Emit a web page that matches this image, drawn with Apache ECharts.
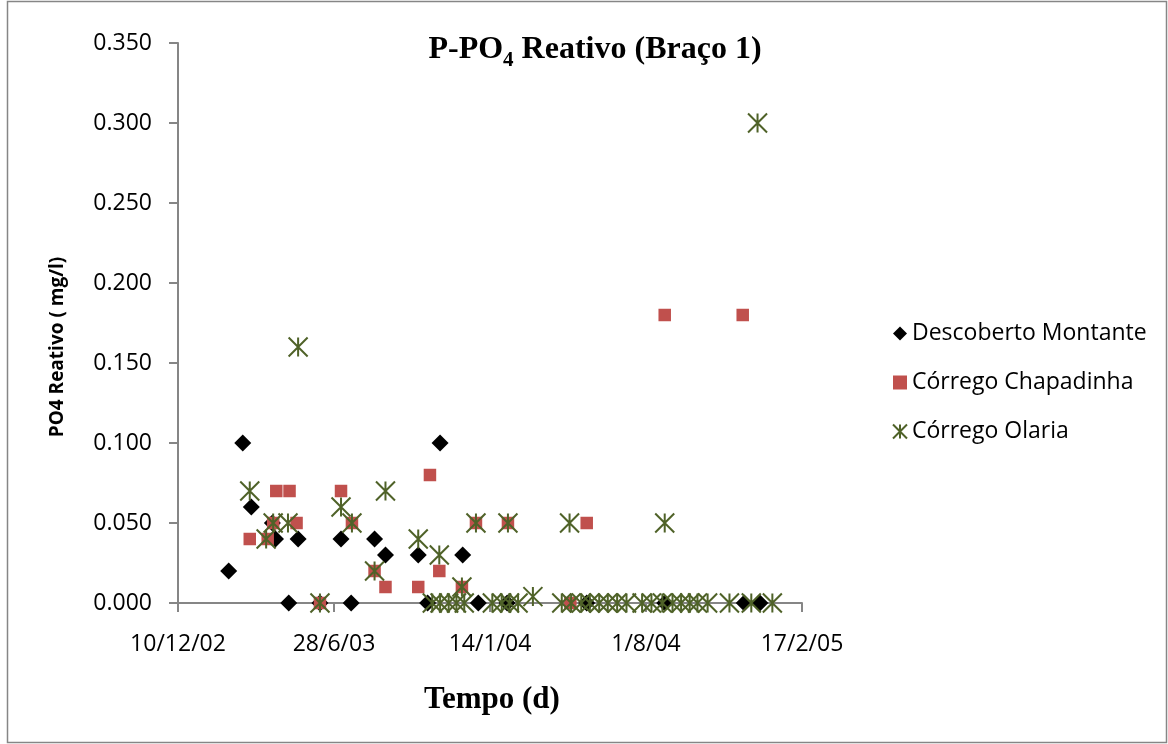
<!DOCTYPE html>
<html>
<head>
<meta charset="utf-8">
<title>P-PO4 Reativo (Braço 1)</title>
<style>
  html, body { margin: 0; padding: 0; background: #fff; }
  #chart { width: 1168px; height: 744px; }
</style>
</head>
<body>
<div id="chart"></div>
<script src="https://cdn.jsdelivr.net/npm/echarts@6/dist/echarts.min.js"></script>
<script>
// sampling dates (dd/mm/yy) and PO4 values (mg/l)
var montanteDates = ['13/2/03', '3/3/03', '14/3/03', '10/4/03', '14/4/03', '1/5/03', '13/5/03', '10/6/03',
  '7/7/03', '20/7/03', '19/8/03', '2/9/03', '14/10/03', '26/10/03', '11/11/03', '10/12/03', '30/12/03',
  '5/2/04', '17/5/04', '25/8/04', '5/12/04', '25/12/04'];
var montanteValues = [0.02, 0.10, 0.06, 0.05, 0.04, 0.00, 0.04, 0.00,
  0.04, 0.00, 0.04, 0.03, 0.03, 0.00, 0.10, 0.03, 0.00,
  0.00, 0.00, 0.00, 0.00, 0.00];

var chapadinhaDates = ['12/3/03', '4/4/03', '11/4/03', '15/4/03', '2/5/03', '11/5/03', '10/6/03', '7/7/03',
  '21/7/03', '19/8/03', '2/9/03', '14/10/03', '29/10/03', '10/11/03', '9/12/03', '27/12/03', '6/2/04',
  '26/4/04', '17/5/04', '25/8/04', '3/12/04'];
var chapadinhaValues = [0.04, 0.04, 0.05, 0.07, 0.07, 0.05, 0.00, 0.07,
  0.05, 0.02, 0.01, 0.01, 0.08, 0.02, 0.01, 0.05, 0.05,
  0.00, 0.05, 0.18, 0.18];

var olariaDates = ['12/3/03', '2/4/03', '11/4/03', '30/4/03', '13/5/03', '10/6/03', '7/7/03', '21/7/03',
  '19/8/03', '2/9/03', '14/10/03', '1/11/03', '10/11/03', '11/11/03', '22/11/03', '2/12/03', '9/12/03',
  '12/12/03', '27/12/03', '17/1/04', '29/1/04', '6/2/04', '8/2/04', '19/2/04', '9/3/04', '15/4/04',
  '25/4/04', '27/4/04', '10/5/04', '21/5/04', '2/6/04', '13/6/04', '25/6/04', '7/7/04', '27/7/04',
  '8/8/04', '22/8/04', '25/8/04', '4/9/04', '15/9/04', '26/9/04', '6/10/04', '19/10/04', '16/11/04',
  '14/12/04', '22/12/04', '10/1/05'];
var olariaValues = [0.07, 0.04, 0.05, 0.05, 0.16, 0.00, 0.06, 0.05,
  0.02, 0.07, 0.04, 0.00, 0.03, 0.00, 0.00, 0.00, 0.01,
  0.00, 0.05, 0.00, 0.00, 0.05, 0.00, 0.00, 0.004, 0.00,
  0.05, 0.00, 0.00, 0.00, 0.00, 0.00, 0.00, 0.00, 0.00,
  0.00, 0.00, 0.05, 0.00, 0.00, 0.00, 0.00, 0.00, 0.00,
  0.00, 0.30, 0.00];

var seriesNames = ['Descoberto Montante', 'Córrego Chapadinha', 'Córrego Olaria'];
var xTicks = ['10/12/02', '28/6/03', '14/1/04', '1/8/04', '17/2/05'];
var yTicks = [0, 0.05, 0.10, 0.15, 0.20, 0.25, 0.30, 0.35];

// excel style day serial, so the 200 day tick step starts on a multiple of 200
function toSerial(s) {
  var p = s.split('/');
  return Date.UTC(2000 + Number(p[2]), Number(p[1]) - 1, Number(p[0])) / 86400000 + 25569;
}
function serialLabel(v) {
  var d = new Date((v - 25569) * 86400000);
  return d.getUTCDate() + '/' + (d.getUTCMonth() + 1) + '/' + String(d.getUTCFullYear()).slice(2);
}
function pairs(dates, values) {
  return dates.map(function (d, i) { return [toSerial(d), values[i]]; });
}

var labelFont = 'Open Sans';
var axisGray = '#868686';
var starPath = 'path://M0,0L20,20M20,0L0,20M10,0L10,20';

var chart = echarts.init(document.getElementById('chart'), null, { renderer: 'canvas' });
var option = {
  animation: false,
  backgroundColor: '#fff',
  grid: { left: 178, right: 366, top: 43, bottom: 141 },
  xAxis: {
    type: 'value',
    min: toSerial(xTicks[0]),
    max: toSerial(xTicks[xTicks.length - 1]),
    interval: toSerial(xTicks[1]) - toSerial(xTicks[0]),
    axisLine: { lineStyle: { color: axisGray, width: 2 } },
    axisTick: { show: true, inside: false, length: 9, lineStyle: { color: axisGray, width: 2 } },
    splitLine: { show: false },
    axisLabel: {
      margin: 30, color: '#000', fontFamily: labelFont, fontSize: 23,
      showMinLabel: true, showMaxLabel: true,
      formatter: serialLabel
    }
  },
  yAxis: {
    type: 'value',
    min: yTicks[0],
    max: yTicks[yTicks.length - 1],
    interval: yTicks[1] - yTicks[0],
    axisLine: { show: true, lineStyle: { color: axisGray, width: 2 } },
    axisTick: { show: true, inside: false, length: 9, lineStyle: { color: axisGray, width: 2 } },
    splitLine: { show: false },
    axisLabel: {
      margin: 26, color: '#000', fontFamily: labelFont, fontSize: 23,
      formatter: function (v) { return v.toFixed(3); }
    }
  },
  legend: {
    orient: 'vertical',
    left: 887,
    top: 317,
    itemWidth: 14,
    itemHeight: 14,
    itemGap: 26,
    textStyle: { color: '#000', fontFamily: labelFont, fontSize: 23 },
    data: [
      { name: seriesNames[0], icon: 'diamond' },
      { name: seriesNames[1], icon: 'rect' },
      { name: seriesNames[2], icon: starPath }
    ]
  },
  series: [
    {
      name: seriesNames[0], type: 'scatter', symbol: 'diamond', symbolSize: 17,
      itemStyle: { color: '#000', opacity: 1 },
      data: pairs(montanteDates, montanteValues)
    },
    {
      name: seriesNames[1], type: 'scatter', symbol: 'rect', symbolSize: 12.5,
      itemStyle: { color: '#C0504D', opacity: 1 },
      data: pairs(chapadinhaDates, chapadinhaValues)
    },
    {
      name: seriesNames[2], type: 'scatter', symbol: starPath, symbolSize: 19,
      itemStyle: { color: '#4F6228', borderColor: '#4F6228', borderWidth: 2, opacity: 1 },
      data: pairs(olariaDates, olariaValues)
    }
  ],
  graphic: [
    {
      type: 'rect', silent: true,
      shape: { x: 7.5, y: 1.5, width: 1159, height: 741 },
      style: { fill: 'none', stroke: axisGray, lineWidth: 1.5 }
    },
    {
      type: 'text', x: 595, y: 50,
      style: {
        text: '{a|P-PO}{s|4}{a| Reativo (Braço 1)}',
        align: 'center', verticalAlign: 'middle', fill: '#000',
        rich: {
          a: { fontFamily: 'Liberation Serif', fontWeight: 'bold', fontSize: 32, lineHeight: 44 },
          s: { fontFamily: 'Liberation Serif', fontWeight: 'bold', fontSize: 21, lineHeight: 21,
            verticalAlign: 'top', padding: [22, 0, 0, 0] }
        }
      }
    },
    {
      type: 'text', x: 492, y: 700,
      style: {
        text: 'Tempo (d)', align: 'center', verticalAlign: 'middle', fill: '#000',
        fontFamily: 'Liberation Serif', fontWeight: 'bold', fontSize: 31
      }
    },
    {
      type: 'text', x: 58, y: 347, rotation: Math.PI / 2,
      style: {
        text: 'PO4 Reativo ( mg/l)', align: 'center', verticalAlign: 'middle', fill: '#000',
        fontFamily: labelFont, fontWeight: 'bold', fontSize: 19
      }
    }
  ]
};
chart.setOption(option);
</script>
</body>
</html>
